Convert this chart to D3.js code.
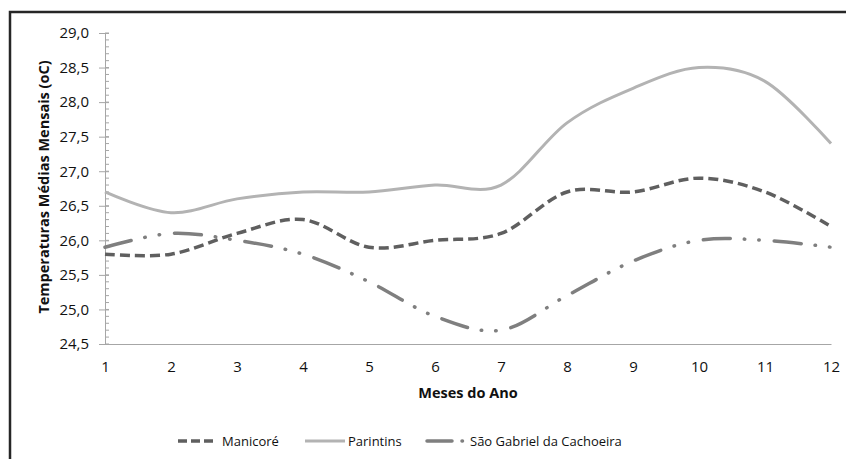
<!DOCTYPE html>
<html><head><meta charset="utf-8">
<script src="https://cdn.jsdelivr.net/npm/d3@7"></script>
<style>
body{margin:0;background:#fff;}
text{font-family:"Open Sans",sans-serif;fill:#111;}
</style></head>
<body><svg id="c" width="846" height="459"></svg>
<script>
const months = [1,2,3,4,5,6,7,8,9,10,11,12];
const manicore = [25.8,25.8,26.1,26.3,25.9,26.0,26.1,26.7,26.7,26.9,26.7,26.2];
const parintins = [26.7,26.4,26.6,26.7,26.7,26.8,26.8,27.7,28.2,28.5,28.3,27.4];
const saoGabriel = [25.9,26.1,26.0,25.8,25.4,24.9,24.7,25.2,25.7,26.0,26.0,25.9];
const yTicks = [24.5,25.0,25.5,26.0,26.5,27.0,27.5,28.0,28.5,29.0];
const seriesNames = ["Manicoré","Parintins","São Gabriel da Cachoeira"];

const svg = d3.select("#c");
// frame
svg.append("rect").attr("x",10).attr("y",12).attr("width",900).attr("height",500)
  .attr("fill","none").attr("stroke","#262626").attr("stroke-width",2.5);

const x = d3.scaleLinear().domain([1,12]).range([105,831]);
const y = d3.scaleLinear().domain([24.5,29]).range([344,33]);

const fmt = v => d3.format(".1f")(v).replace(".",",");
const g = svg.append("g");
// minor ticks
const minor = d3.range(245,291).map(v=>v/10);
g.selectAll(".mn").data(minor).enter().append("line")
  .attr("x1",105).attr("x2",109).attr("y1",d=>y(d)).attr("y2",d=>y(d))
  .attr("stroke","#a6a6a6").attr("stroke-width",1);
// y axis
const ya = d3.axisLeft(y).tickValues(yTicks).tickFormat(fmt).tickSizeInner(6).tickSizeOuter(0).tickPadding(10);
const yg = g.append("g").attr("transform","translate(105,0)").call(ya);
yg.select(".domain").attr("stroke","#a6a6a6");
yg.selectAll(".tick line").attr("stroke","#a6a6a6").attr("x2",-6).attr("x1",4);
yg.selectAll(".tick text").style("font-size","15px").style("font-family","Open Sans").attr("fill","#111");
// x axis
const xa = d3.axisBottom(x).tickValues(months).tickFormat(d3.format("d")).tickSize(0).tickPadding(17);
const xg = g.append("g").attr("transform","translate(0,344)").call(xa);
xg.select(".domain").attr("stroke","#a6a6a6");
xg.selectAll(".tick text").style("font-size","15px").style("font-family","Open Sans").attr("fill","#111");

// titles
svg.append("text").attr("x",468).attr("y",398).attr("text-anchor","middle")
  .style("font-size","14.5px").style("font-weight","bold").text("Meses do Ano");
svg.append("text").attr("transform","translate(49,187) rotate(-90)").attr("text-anchor","middle")
  .style("font-size","14.5px").style("font-weight","bold").text("Temperaturas Médias Mensais (oC)");

const styles = [
  {data:manicore,color:"#5f5f5f",w:3.5,dash:"10,5",cap:"butt"},
  {data:parintins,color:"#b3b3b3",w:3,dash:null,cap:"butt"},
  {data:saoGabriel,color:"#7f7f7f",w:3.5,dash:"27,14,0.5,14,0.5,15",cap:"round"}
];
const line = d3.line().x((d,i)=>x(months[i])).y(d=>y(d)).curve(d3.curveCatmullRom.alpha(0));
styles.forEach(s=>{
  svg.append("path").attr("d",line(s.data)).attr("fill","none").attr("stroke",s.color)
   .attr("stroke-width",s.w).attr("stroke-dasharray",s.dash).attr("stroke-linecap",s.cap);
});

// legend
const leg = [
  {x1:178,x2:213,tx:222},
  {x1:305,x2:345,tx:348},
  {x1:427,x2:464,tx:470}
];
const legDash = ["9,4",null,"25,10,0.5,20"];
leg.forEach((l,i)=>{
  svg.append("line").attr("x1",l.x1).attr("x2",l.x2).attr("y1",441).attr("y2",441)
   .attr("stroke",styles[i].color).attr("stroke-width",styles[i].w)
   .attr("stroke-dasharray",legDash[i]).attr("stroke-linecap",styles[i].cap);
  svg.append("text").attr("x",l.tx).attr("y",446).style("font-size","13px").text(seriesNames[i]);
});
</script></body></html>
